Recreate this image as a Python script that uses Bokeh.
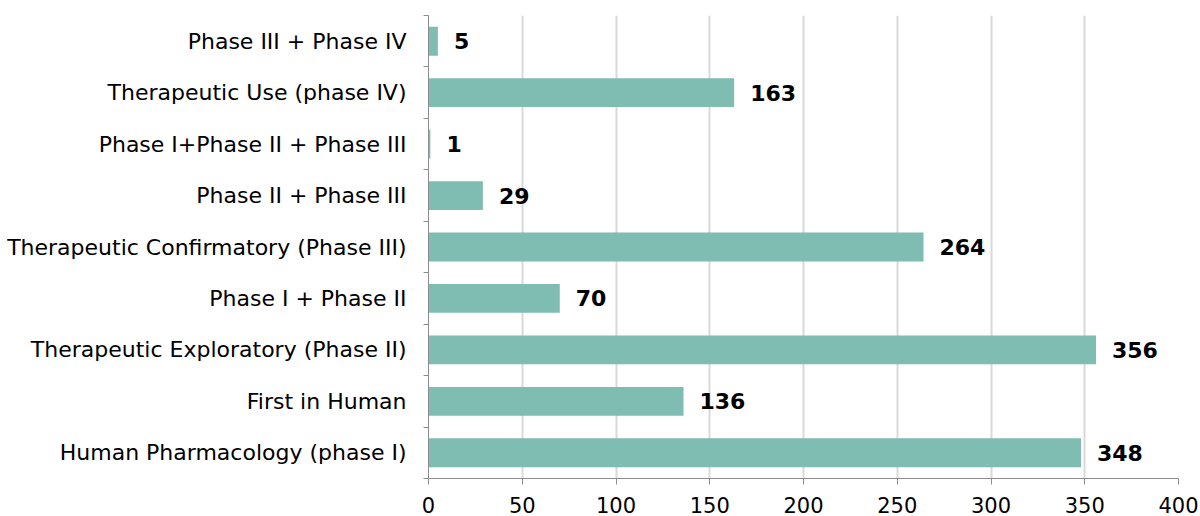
from bokeh.plotting import figure
from bokeh.models import ColumnDataSource, FixedTicker, Range1d
from bokeh.core.properties import value
from bokeh.embed import file_html
from bokeh.resources import INLINE

categories = [
    "Human Pharmacology (phase I)",
    "First in Human",
    "Therapeutic Exploratory (Phase II)",
    "Phase I + Phase II",
    "Therapeutic Confirmatory (Phase III)",
    "Phase II + Phase III",
    "Phase I+Phase II + Phase III",
    "Therapeutic Use (phase IV)",
    "Phase III + Phase IV",
]
counts = [348, 136, 356, 70, 264, 29, 1, 163, 5]
x_ticks = [0, 50, 100, 150, 200, 250, 300, 350, 400]

n = len(categories)
ypos = [i + 0.5 for i in range(n)]
src = ColumnDataSource(dict(y=ypos, v=counts, lab=[str(c) for c in counts], cat=categories))

FONT = "DejaVu Sans"

p = figure(width=1200, height=516, output_backend="svg", toolbar_location=None,
           x_range=Range1d(0, 400), y_range=Range1d(0, n),
           min_border_left=428, min_border_right=22, min_border_top=15, min_border_bottom=38)
p.outline_line_color = None
p.background_fill_color = "white"

p.hbar(y="y", right="v", left=0, height=0.56, source=src, fill_color="#7fbcb2", line_color=None)
p.text(x="v", y="y", text="lab", source=src, x_offset=16, text_baseline="middle", text_align="left",
       text_font=value(FONT), text_font_style="bold", text_font_size="22px", text_color="#000000")

# x axis
p.xaxis.ticker = FixedTicker(ticks=x_ticks)
p.xaxis.minor_tick_line_color = None
p.xaxis.major_tick_in = 0
p.xaxis.major_tick_out = 6
p.xaxis.axis_line_color = "#8c8c8c"
p.xaxis.major_tick_line_color = "#8c8c8c"
p.xaxis.major_label_text_font = FONT
p.xaxis.major_label_text_font_size = "21px"
p.xaxis.major_label_text_color = "#000000"
p.xaxis.major_label_standoff = 12

# y axis: labels at centres, ticks at boundaries
p.yaxis.ticker = FixedTicker(ticks=ypos, minor_ticks=list(range(n + 1)))
p.yaxis.major_label_overrides = {y: c for y, c in zip(ypos, categories)}
p.yaxis.major_tick_line_color = None
p.yaxis.minor_tick_in = 0
p.yaxis.minor_tick_out = 5
p.yaxis.minor_tick_line_color = "#8c8c8c"
p.yaxis.axis_line_color = "#8c8c8c"
p.yaxis.major_label_text_font = FONT
p.yaxis.major_label_text_font_size = "22px"
p.yaxis.major_label_text_color = "#000000"
p.yaxis.major_label_standoff = 16

p.xgrid.ticker = FixedTicker(ticks=x_ticks)
p.xgrid.grid_line_color = "#d9d9d9"
p.xgrid.grid_line_width = 2
p.ygrid.grid_line_color = None

open("out.html", "w").write(file_html(p, INLINE))
